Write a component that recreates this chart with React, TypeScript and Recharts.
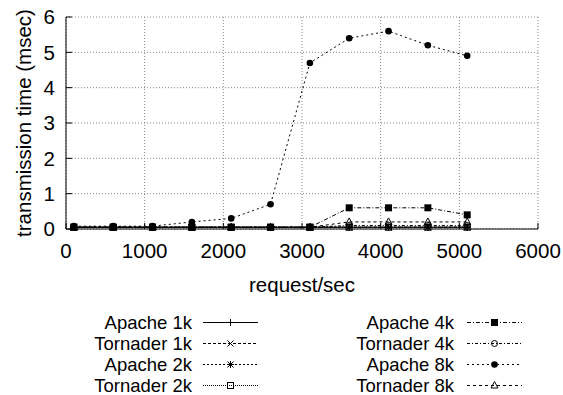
import React from "react"
import { LineChart, Line, XAxis, YAxis, CartesianGrid } from "recharts"

// request rate (req/sec)
const REQUESTS = [100, 600, 1100, 1600, 2100, 2600, 3100, 3600, 4100, 4600, 5100]

// transmission time (msec)
const APACHE_1K = [0.05, 0.05, 0.05, 0.05, 0.05, 0.05, 0.05, 0.05, 0.05, 0.05, 0.05]
const TORNADER_1K = [0.05, 0.05, 0.05, 0.05, 0.05, 0.05, 0.05, 0.05, 0.05, 0.05, 0.05]
const APACHE_2K = [0.05, 0.05, 0.05, 0.05, 0.05, 0.05, 0.05, 0.05, 0.05, 0.05, 0.05]
const TORNADER_2K = [0.05, 0.05, 0.05, 0.05, 0.05, 0.05, 0.05, 0.05, 0.05, 0.05, 0.05]
const APACHE_4K = [0.05, 0.05, 0.05, 0.05, 0.05, 0.05, 0.05, 0.6, 0.6, 0.6, 0.4]
const TORNADER_4K = [0.05, 0.05, 0.05, 0.05, 0.05, 0.05, 0.05, 0.1, 0.1, 0.1, 0.1]
const APACHE_8K = [0.08, 0.08, 0.08, 0.2, 0.3, 0.7, 4.7, 5.4, 5.6, 5.2, 4.9]
const TORNADER_8K = [0.05, 0.05, 0.05, 0.05, 0.05, 0.05, 0.05, 0.2, 0.2, 0.2, 0.2]

const X_TICKS = [0, 1000, 2000, 3000, 4000, 5000, 6000]
const Y_TICKS = [0, 1, 2, 3, 4, 5, 6]

const FONT = "'Liberation Sans', Arial, sans-serif"
const FS = 20.5
const LEGEND_FS = 18.5

type Shape = "plus" | "cross" | "star" | "box" | "boxFilled" | "circle" | "circleFilled" | "triangle"

const SERIES: { key: string; name: string; values: number[]; dash?: string; shape: Shape }[] = [
  { key: "a1k", name: "Apache 1k", values: APACHE_1K, shape: "plus" },
  { key: "t1k", name: "Tornader 1k", values: TORNADER_1K, dash: "3 2", shape: "cross" },
  { key: "a2k", name: "Apache 2k", values: APACHE_2K, dash: "2 2", shape: "star" },
  { key: "t2k", name: "Tornader 2k", values: TORNADER_2K, dash: "1 1", shape: "box" },
  { key: "a4k", name: "Apache 4k", values: APACHE_4K, dash: "4 2 1 2", shape: "boxFilled" },
  { key: "t4k", name: "Tornader 4k", values: TORNADER_4K, dash: "3 2 1 2", shape: "circle" },
  { key: "a8k", name: "Apache 8k", values: APACHE_8K, dash: "2 3", shape: "circleFilled" },
  { key: "t8k", name: "Tornader 8k", values: TORNADER_8K, dash: "3 3", shape: "triangle" },
]

const data = REQUESTS.map((x, i) => {
  const row: Record<string, number> = { x }
  SERIES.forEach((s) => (row[s.key] = s.values[i]))
  return row
})

function Marker({ shape, cx, cy }: { shape: Shape; cx: number; cy: number }) {
  const s = 3.5
  switch (shape) {
    case "plus":
      return <path d={`M${cx - s},${cy}H${cx + s}M${cx},${cy - s}V${cy + s}`} stroke="#000" />
    case "cross":
      return <path d={`M${cx - 3},${cy - 3}L${cx + 3},${cy + 3}M${cx - 3},${cy + 3}L${cx + 3},${cy - 3}`} stroke="#000" />
    case "star":
      return (
        <path
          d={`M${cx - s},${cy}H${cx + s}M${cx},${cy - s}V${cy + s}M${cx - 3},${cy - 3}L${cx + 3},${cy + 3}M${cx - 3},${cy + 3}L${cx + 3},${cy - 3}`}
          stroke="#000"
        />
      )
    case "box":
      return <rect x={cx - 3} y={cy - 3} width={6} height={6} fill="none" stroke="#000" />
    case "boxFilled":
      return <rect x={cx - 3.5} y={cy - 3.5} width={7} height={7} fill="#000" />
    case "circle":
      return <circle cx={cx} cy={cy} r={3} fill="none" stroke="#000" />
    case "circleFilled":
      return <circle cx={cx} cy={cy} r={3.3} fill="#000" />
    default:
      return <path d={`M${cx},${cy - 4}L${cx + 3.5},${cy + 2.5}L${cx - 3.5},${cy + 2.5}Z`} fill="none" stroke="#000" />
  }
}

function XTick({ x, y, payload }: any) {
  return (
    <text x={x} y={y} dy="0.71em" textAnchor="middle" fontFamily={FONT} fontSize={FS} fill="#000">
      {payload.value}
    </text>
  )
}

function YTick({ x, y, payload }: any) {
  return (
    <text x={x} y={y} dy="0.355em" textAnchor="end" fontFamily={FONT} fontSize={FS} fill="#000">
      {payload.value}
    </text>
  )
}

function LegendBlock() {
  return (
    <svg width={563} height={395} style={{ position: "absolute", left: 0, top: 0, pointerEvents: "none" }}>
      {SERIES.map((s, i) => {
        const col = i < 4 ? 0 : 1
        const row = i % 4
        const cy = 322.5 + row * 21
        const textRight = col === 0 ? 192 : 454
        const x1 = col === 0 ? 203 : 467
        const x2 = col === 0 ? 258 : 522
        return (
          <g key={s.key}>
            <text x={textRight} y={cy + 6.5} textAnchor="end" fontFamily={FONT} fontSize={LEGEND_FS} fill="#000">
              {s.name}
            </text>
            <line x1={x1} x2={x2} y1={cy} y2={cy} stroke="#000" strokeDasharray={s.dash} />
            <Marker shape={s.shape} cx={(x1 + x2) / 2} cy={cy} />
          </g>
        )
      })}
    </svg>
  )
}

export default function App() {
  return (
    <div style={{ position: "absolute", left: 0, top: 0, width: 563, height: 395, background: "#fff" }}>
      <LineChart width={563} height={395} data={data} margin={{ top: 17, right: 25, left: 0, bottom: 136 }}>
        <CartesianGrid stroke="#888" strokeDasharray="1 2" />
        <XAxis
          dataKey="x"
          type="number"
          domain={[0, 6000]}
          ticks={X_TICKS}
          height={30}
          tickSize={-6}
          tickMargin={20}
          stroke="#000"
          tickLine={{ stroke: "#000" }}
          tick={<XTick />}
          label={{
            value: "request/sec",
            position: "bottom",
            offset: 18,
            fontFamily: FONT,
            fontSize: FS,
            fill: "#000",
          }}
        />
        <XAxis
          xAxisId="top"
          orientation="top"
          type="number"
          domain={[0, 6000]}
          ticks={X_TICKS}
          height={0}
          tickSize={-6}
          stroke="#000"
          tickLine={{ stroke: "#000" }}
          tick={false}
        />
        <YAxis
          type="number"
          domain={[0, 6]}
          ticks={Y_TICKS}
          width={66}
          tickSize={-6}
          tickMargin={17}
          stroke="#000"
          tickLine={{ stroke: "#000" }}
          tick={<YTick />}
          label={{
            value: "transmission time (msec)",
            angle: -90,
            position: "insideLeft",
            offset: 24,
            fontFamily: FONT,
            fontSize: FS,
            fill: "#000",
            style: { textAnchor: "middle" },
          }}
        />
        <YAxis
          yAxisId="right"
          orientation="right"
          type="number"
          domain={[0, 6]}
          ticks={Y_TICKS}
          width={0}
          tickSize={-6}
          stroke="#000"
          tickLine={{ stroke: "#000" }}
          tick={false}
        />
        {SERIES.map((s) => (
          <Line
            key={s.key}
            dataKey={s.key}
            name={s.name}
            type="linear"
            stroke="#000"
            strokeWidth={1}
            strokeDasharray={s.dash}
            isAnimationActive={false}
            dot={(p: any) => <Marker key={`${s.key}-${p.index}`} shape={s.shape} cx={p.cx} cy={p.cy} />}
            activeDot={false}
          />
        ))}
      </LineChart>
      <LegendBlock />
    </div>
  )
}
